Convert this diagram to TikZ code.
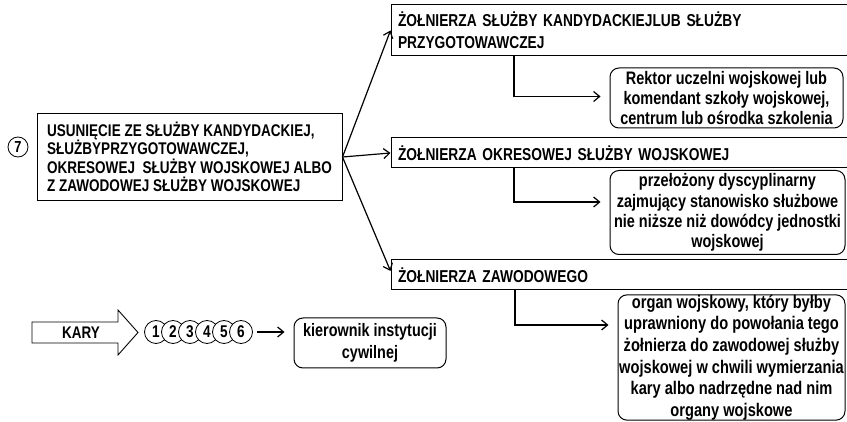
\documentclass[tikz,border=0pt]{standalone}
\usepackage{fontspec}
\setmainfont[FakeStretch=0.8]{Liberation Sans}
\usetikzlibrary{arrows.meta}
\begin{document}
\begin{tikzpicture}[x=1pt,y=-1pt,
  sq/.style={draw, line width=1pt, rectangle, inner xsep=7pt, inner ysep=0pt, align=left},
  rb/.style={draw, line width=1pt, rounded corners=9pt, align=center, inner sep=0pt},
  arr/.style={line width=1.2pt, -{Straight Barb[length=6pt,width=10pt]}},
  num/.style={draw, circle, fill=white, inner sep=0pt, minimum size=23pt, line width=0.8pt,
    font=\fontsize{17}{18}\selectfont\bfseries},
  capsA/.style={font=\fontsize{16.9}{18.4}\selectfont\bfseries},
  capsB/.style={font=\fontsize{17.2}{22}\selectfont\bfseries},
  lowA/.style={font=\fontsize{18.1}{20.3}\selectfont\bfseries},
  lowB/.style={font=\fontsize{18.3}{21.6}\selectfont\bfseries}]
\clip (0,0) rectangle (847,422);

% circle 7 and main box
\node[draw, circle, minimum size=20pt, inner sep=0pt, line width=0.8pt,
  font=\fontsize{16}{17}\selectfont\bfseries] (n7) at (18,147) {7};
\node[sq, capsA, minimum width=305pt, minimum height=87pt] (main) at (189.5,157)
  {USUNIĘCIE ZE SŁUŻBY KANDYDACKIEJ,\\ SŁUŻBYPRZYGOTOWAWCZEJ,\\ OKRESOWEJ\ \ SŁUŻBY WOJSKOWEJ ALBO\\ Z ZAWODOWEJ SŁUŻBY WOJSKOWEJ};

% right-hand category boxes
\node[sq, capsB, text width=455pt, minimum height=51pt] (b1) at (625.5,30.5)
  {ŻOŁNIERZA SŁUŻBY KANDYDACKIEJLUB SŁUŻBY\\ PRZYGOTOWAWCZEJ};
\node[sq, capsB, text width=455pt, minimum height=30pt] (b2) at (625.5,153)
  {ŻOŁNIERZA OKRESOWEJ SŁUŻBY WOJSKOWEJ};
\node[sq, capsB, text width=455pt, minimum height=30pt] (b3) at (625.5,275)
  {ŻOŁNIERZA ZAWODOWEGO};

% rounded authority boxes
\node[rb, lowA, minimum width=233pt, minimum height=60pt] (r1) at (726.5,98)
  {Rektor uczelni wojskowej lub\\ komendant szkoły wojskowej,\\ centrum lub ośrodka szkolenia};
\node[rb, lowA, minimum width=235pt, minimum height=84pt] (r2) at (727.5,212.5)
  {przełożony dyscyplinarny\\ zajmujący stanowisko służbowe\\ nie niższe niż dowódcy jednostki\\ wojskowej};
\node[rb, lowB, minimum width=227pt, minimum height=125pt] (r3) at (731.5,357.5)
  {organ wojskowy, który byłby\\ uprawniony do powołania tego\\ żołnierza do zawodowej służby\\ wojskowej w chwili wymierzania\\ kary albo nadrzędne nad nim\\ organy wojskowe};

% main fan of arrows
\draw[arr] (main.east) -- (b1.west);
\draw[arr] (main.east) -- (b2.west);
\draw[arr] (main.east) -- ([yshift=4pt]b3.west);

% elbow connectors
\draw[arr, shorten >=9pt] ([xshift=-111.5pt]b1.south) |- ([yshift=1.5pt]r1.west);
\draw[arr, shorten >=9pt] ([xshift=-111.5pt]b2.south) |- ([yshift=10.5pt]r2.west);
\draw[arr, shorten >=9pt] ([xshift=-110.5pt]b3.south) |- ([yshift=32.5pt]r3.west);

% KARY block arrow
\draw[line width=0.9pt] (32,322) -- (118,322) -- (118,310) -- (138,332.5) -- (118,355) -- (118,343) -- (32,343) -- cycle;
\node[font=\fontsize{16.8}{18}\selectfont\bfseries] (kary) at (81,333) {KARY};

% numbered circles
\foreach \i in {1,...,6} \node[num] (c\i) at ({139+17*\i},332) {\i};

% kierownik box
\node[rb, minimum width=152pt, minimum height=50pt, font=\fontsize{18}{22}\selectfont\bfseries] (kier) at (370,343)
  {kierownik instytucji\\ cywilnej};
\draw[arr, shorten <=4pt, shorten >=9pt] (c6.east) -- (c6.east -| kier.west);
\end{tikzpicture}
\end{document}
